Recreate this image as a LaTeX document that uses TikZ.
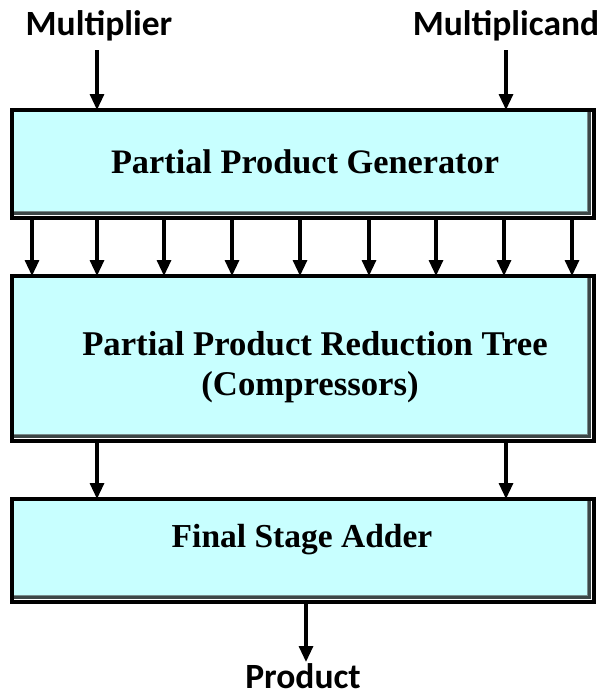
\documentclass[tikz,border=0pt]{standalone}
\usepackage{fontspec}
\setmainfont{Liberation Serif}
\newfontfamily\labfont{Carlito}
\usetikzlibrary{arrows.meta}

\definecolor{boxcyan}{RGB}{200,255,255}
\definecolor{bevdark}{RGB}{60,70,70}
\definecolor{bevmid}{RGB}{120,140,140}

\tikzset{
  bevelbox/.style={
    rectangle, minimum width=582pt, inner sep=0pt, outer sep=0pt,
    fill=white, draw=black, line width=3.5pt,
    path picture={
      \fill[bevdark] (path picture bounding box.north west) rectangle
        ([xshift=-3.5pt,yshift=3.5pt]path picture bounding box.south east);
      \fill[bevmid] (path picture bounding box.north west) rectangle
        ([xshift=-6pt,yshift=6pt]path picture bounding box.south east);
      \fill[boxcyan] (path picture bounding box.north west) rectangle
        ([xshift=-7.5pt,yshift=7.5pt]path picture bounding box.south east);
    }},
  boxtext/.style={anchor=base, inner sep=0pt, font=\bfseries},
  iolabel/.style={anchor=base, inner sep=0pt, font=\labfont\fontsize{35.5}{40}\selectfont\bfseries},
  arr/.style={line width=3.2pt, -{Triangle[width=14pt,length=16pt]}}
}

\begin{document}
\begin{tikzpicture}[x=1pt,y=-1pt]
\useasboundingbox (0,0) rectangle (605,696);

% processing stages
\node[bevelbox, minimum height=108pt] (b1) at (303,164) {};
\node[bevelbox, minimum height=165pt] (b2) at (303,358.5) {};
\node[bevelbox, minimum height=103pt] (b3) at (303,550.5) {};

\node[boxtext] (t1) at (305,173) {\fontsize{34.3}{40}\selectfont Partial Product Generator};
\node[boxtext] (t2a) at (315,355) {\fontsize{34.7}{40}\selectfont Partial Product Reduction Tree};
\node[boxtext] (t2b) at (310,395) {\fontsize{34.7}{40}\selectfont (Compressors)};
\node[boxtext] (t3) at (302,547) {\fontsize{33.5}{40}\selectfont Final Stage Adder};

% inputs and output
\node[iolabel] (mr) at (99,35) {Multiplier};
\node[iolabel] (md) at (506,35) {Multiplicand};
\node[iolabel] (pr) at (303,688) {Product};

\coordinate (mrs) at (97,50);
\coordinate (mds) at (506,50);
\coordinate (pre) at (306,662);

\draw[arr] (mrs) -- (mrs |- b1.north);
\draw[arr] (mds) -- (mds |- b1.north);

% partial product bits
\foreach \x [count=\i] in {32,97,164,232,300,369,436,504,572} {
  \coordinate (pp\i) at (\x,0);
  \draw[arr] (b1.south -| pp\i) -- (b2.north -| pp\i);
}

% sum and carry vectors
\coordinate (s1) at (97,0);
\coordinate (s2) at (506,0);
\draw[arr] (b2.south -| s1) -- (b3.north -| s1);
\draw[arr] (b2.south -| s2) -- (b3.north -| s2);

\draw[arr] (b3.south -| pre) -- (pre);
\end{tikzpicture}
\end{document}
